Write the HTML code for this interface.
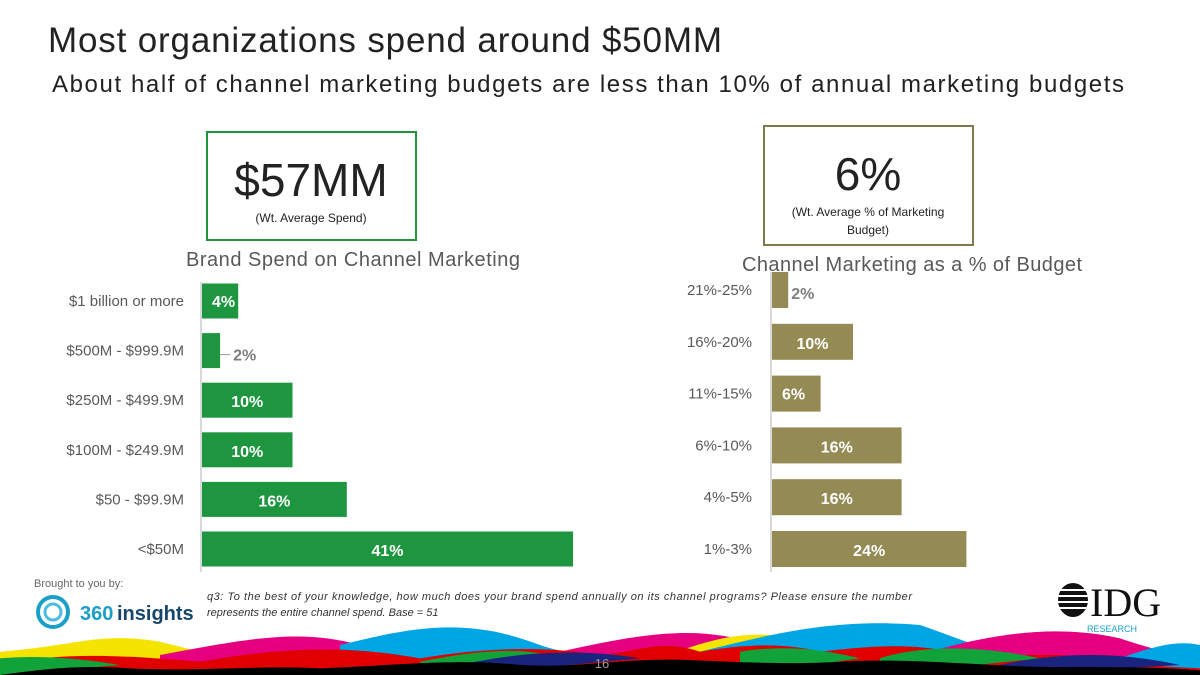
<!DOCTYPE html>
<html><head><meta charset="utf-8"><style>
body{margin:0;background:#fff}
svg{display:block;font-family:"Liberation Sans",sans-serif}
</style></head><body>
<svg width="1200" height="675" viewBox="0 0 1200 675">
<text x="48" y="52" font-size="35" fill="#222" textLength="674">Most organizations spend around $50MM</text>
<text x="52" y="92" font-size="24" fill="#222" textLength="1072">About half of channel marketing budgets are less than 10% of annual marketing budgets</text>

<g>
<rect x="207" y="132" width="209" height="108" fill="#fff" stroke="#1e9640" stroke-width="2"/>
<text x="311" y="196" font-size="46" text-anchor="middle" fill="#222">$57MM</text>
<text x="311" y="222" font-size="12" text-anchor="middle" fill="#222">(Wt. Average Spend)</text>
</g>
<g>
<rect x="764" y="126" width="209" height="119" fill="#fff" stroke="#7f7a4e" stroke-width="2"/>
<text x="868" y="190" font-size="46" text-anchor="middle" fill="#222">6%</text>
<text x="868" y="216" font-size="12" text-anchor="middle" fill="#222">(Wt. Average % of Marketing</text>
<text x="868" y="234" font-size="12" text-anchor="middle" fill="#222">Budget)</text>
</g>

<text x="353" y="266" font-size="20" text-anchor="middle" fill="#595959" textLength="334">Brand Spend on Channel Marketing</text>
<text x="912" y="271" font-size="20" text-anchor="middle" fill="#595959" textLength="340">Channel Marketing as a % of Budget</text>

<g id="left"></g>
<g id="right"></g>

<g transform="translate(0,225) scale(1,0.6667)">
<path d="M0 640 C80 630 100 610 160 625 C200 640 250 660 300 660 L0 675Z" fill="#f5e400"/>
<path d="M160 645 C250 620 300 605 360 630 C400 650 450 660 500 650 L160 675Z" fill="#e60080"/>
<path d="M340 630 C420 600 470 590 540 630 C580 650 640 660 700 650 L340 675Z" fill="#00a6e4"/>
<path d="M560 640 C650 610 700 600 760 630 C800 650 860 650 900 640 L560 675Z" fill="#e60080"/>
<path d="M640 660 C680 640 720 610 770 615 C820 625 840 660 900 660Z" fill="#f5e400"/>
<path d="M700 640 C780 610 840 590 920 600 C960 620 1000 650 1050 650 L700 675Z" fill="#00a6e4"/>
<path d="M930 640 C1000 610 1060 600 1120 620 C1160 640 1190 650 1200 640 L1200 675 L930 675Z" fill="#e60080"/>
<path d="M1100 660 C1140 640 1170 620 1200 630 L1200 675Z" fill="#00a6e4"/>
<path d="M0 660 C60 640 120 645 200 655 C260 640 330 625 420 650 C480 635 540 630 600 645 C640 640 660 620 700 640 C740 630 780 625 820 640 C880 630 920 625 980 650 C1040 640 1100 645 1140 660 L1200 665 L1200 675 L0 675Z" fill="#e00000"/>
<path d="M0 650 C40 645 80 650 120 660 L0 675Z" fill="#12a23a"/>
<path d="M420 655 C470 640 520 630 560 650 L420 675Z" fill="#12a23a"/>
<path d="M740 640 C780 630 820 635 860 650 L740 675Z" fill="#12a23a"/>
<path d="M880 650 C920 630 980 630 1040 650 L880 675Z" fill="#12a23a"/>
<path d="M460 660 C520 640 580 635 640 650 L460 675Z" fill="#1a237e"/>
<path d="M1000 660 C1060 640 1120 640 1180 660 L1000 675Z" fill="#1a237e"/>
<path d="M0 675 C50 665 80 660 130 665 C200 670 260 660 320 665 C400 660 460 650 520 660 C580 665 620 650 680 652 C740 655 780 660 840 655 C900 650 960 658 1020 662 C1080 665 1140 660 1200 668 L1200 675Z" fill="#000"/>
</g>
<text x="602" y="668" font-size="13" fill="#999" text-anchor="middle">16</text>

<g>
<text x="34" y="587" font-size="11" fill="#666">Brought to you by:</text>
<g>
<circle cx="53" cy="612" r="15" fill="none" stroke="#1aa0c8" stroke-width="4"/>
<circle cx="53" cy="612" r="8" fill="none" stroke="#4dbce0" stroke-width="3"/>
<text x="80" y="620" font-size="20" font-weight="bold" fill="#1aa0c8">360</text><text x="117" y="620" font-size="20" font-weight="bold" fill="#16466b">insights</text>
</g>
<text x="207" y="600" font-size="11" font-style="italic" fill="#333" textLength="705">q3: To the best of your knowledge, how much does your brand spend annually on its channel programs? Please ensure the number</text>
<text x="207" y="616" font-size="11" font-style="italic" fill="#333">represents the entire channel spend. Base = 51</text>
<g>
<ellipse cx="1073" cy="600" rx="15" ry="17" fill="#111"/>
<g stroke="#fff" stroke-width="2"><line x1="1050" y1="590" x2="1095" y2="590"/><line x1="1050" y1="596" x2="1095" y2="596"/><line x1="1050" y1="602" x2="1095" y2="602"/><line x1="1050" y1="608" x2="1095" y2="608"/></g>
<text x="1090" y="616" font-size="40" font-family="Liberation Serif" fill="#111">IDG</text>
<text x="1087" y="632" font-size="9" fill="#1aa0c8">RESEARCH</text>
</g>
</g>

<script>
const NS="http://www.w3.org/2000/svg";
const leftCats=["$1 billion or more","$500M - $999.9M","$250M - $499.9M","$100M - $249.9M","$50 - $99.9M","<$50M"];
const leftVals=[4,2,10,10,16,41];
const rightCats=["21%-25%","16%-20%","11%-15%","6%-10%","4%-5%","1%-3%"];
const rightVals=[2,10,6,16,16,24];

function mk(tag,attrs,parent){const e=document.createElementNS(NS,tag);for(const k in attrs)e.setAttribute(k,attrs[k]);parent.appendChild(e);return e;}

function drawChart(gid,cats,vals,opt){
  const g=document.getElementById(gid);
  const x=v=>opt.x0+v*opt.scale;
  const y=i=>opt.yTop+i*opt.step;
  const ax=mk("line",{x1:opt.x0-1,x2:opt.x0-1,y1:opt.axTop,y2:opt.axBot,stroke:"#d9d9d9","stroke-width":2},g);
  
  
  cats.forEach((c,i)=>{
    const cy=y(i);
    const lab=mk("text",{x:opt.labelX,y:cy+5,"font-size":15,"text-anchor":"end",fill:"#595959"},g);
    lab.textContent=c;
    
    
    const w=x(vals[i])-opt.x0;
    const r=mk("rect",{x:opt.x0,y:cy-opt.h/2,width:w,height:opt.h,fill:opt.color},g);
    
    
    const lbl=vals[i]+"%";
    let t;
    if(w<25){
      t=mk("text",{x:x(vals[i])+14,y:cy+(opt.prefix==="left"?10:9),"font-size":16,"font-weight":"bold",fill:"#7f7f7f"},g);
      if(opt.prefix==="left"){mk("line",{x1:x(vals[i]),x2:x(vals[i])+10,y1:cy+4,y2:cy+4,stroke:"#999"},g);t.setAttribute("x",x(vals[i])+13);}
      else{t.setAttribute("x",x(vals[i])+3);}
    } else if(w<60){
      t=mk("text",{x:opt.x0+10,y:cy+6,"font-size":16,"font-weight":"bold",fill:"#fff"},g);
    } else {
      t=mk("text",{x:opt.x0+w/2,y:cy+7,"font-size":16,"font-weight":"bold",fill:"#fff","text-anchor":"middle"},g);
    }
    t.textContent=lbl;
    
    
  });
}
drawChart("left",leftCats,leftVals,{x0:202,scale:9.05,yTop:301,step:49.6,h:35,color:"#1e9640",labelX:184,axTop:282,axBot:572,prefix:"left"});
drawChart("right",rightCats,rightVals,{x0:772,scale:8.1,yTop:290,step:51.8,h:36,color:"#948a54",labelX:752,axTop:272,axBot:572,prefix:"right"});
</script>
</svg>
</body></html>
